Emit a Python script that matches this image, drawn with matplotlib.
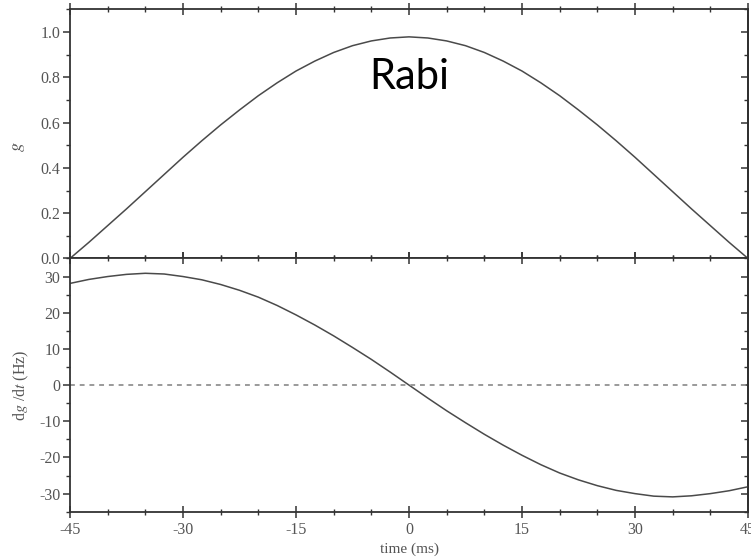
import numpy as np
import matplotlib
matplotlib.use("Agg")
import matplotlib.pyplot as plt
from matplotlib.ticker import MultipleLocator

# time axis (ms), 2.5 ms steps
time_ms = np.arange(-45, 45.01, 2.5)

# Rabi coupling g(t), rising half then mirrored
g_half = [0.0, 0.071, 0.145, 0.219, 0.295, 0.371, 0.447, 0.520, 0.590, 0.656,
          0.719, 0.776, 0.828, 0.872, 0.910, 0.940, 0.961, 0.974, 0.979]
g_vals = g_half + g_half[-2::-1]

# dg/dt in Hz, antisymmetric around t = 0
dg_half = [28.1, 29.2, 30.0, 30.6, 30.9, 30.7, 30.0, 29.1, 27.8, 26.2,
           24.3, 22.0, 19.4, 16.6, 13.6, 10.4, 7.1, 3.6, 0.0]
dg_vals = dg_half + [-v for v in dg_half[-2::-1]]

x_ticks = [-45, -30, -15, 0, 15, 30, 45]
g_ticks = [0.0, 0.2, 0.4, 0.6, 0.8, 1.0]
dg_ticks = [-30, -20, -10, 0, 10, 20, 30]

plt.rcParams['font.family'] = ['Liberation Serif', 'DejaVu Serif']
plt.rcParams['mathtext.fontset'] = 'stix'
plt.rcParams['axes.unicode_minus'] = False

line_col = '#4a4a4a'
text_col = '#555555'

fig = plt.figure(figsize=(7.51, 5.57), dpi=100)
left, right = 70 / 751, 748 / 751
ax1 = fig.add_axes([left, 0.536, right - left, 0.983 - 0.536])
ax2 = fig.add_axes([left, 0.0813, right - left, 0.536 - 0.0813])

ax1.plot(time_ms, g_vals, color=line_col, lw=1.1)
ax1.set_ylim(0, 1.1)
ax1.set_yticks(g_ticks)
ax1.set_yticklabels([f"{v:.1f}" for v in g_ticks])
ax1.yaxis.set_minor_locator(MultipleLocator(0.1))
ax1.set_ylabel(r'$g$', color=text_col, fontsize=13)
ax1.yaxis.set_label_coords(-0.064, 0.45)
ax1.text(0, 0.80, 'Rabi', fontsize=30, family=['Lato', 'DejaVu Sans'],
         ha='center', va='center', color='black')

ax2.plot(time_ms, dg_vals, color=line_col, lw=1.1)
ax2.axhline(0, color='#9a9a9a', lw=1.4, ls=(0, (2.5, 2.5)))
ax2.set_ylim(-35, 35)
ax2.set_yticks(dg_ticks)
ax2.yaxis.set_minor_locator(MultipleLocator(5))
ax2.set_ylabel(r'd$g$ /d$t$ (Hz)', color=text_col, fontsize=11.5)
ax2.yaxis.set_label_coords(-0.058, 0.5)
ax2.set_xlabel('time (ms)', color=text_col, fontsize=11, labelpad=3)

for ax in (ax1, ax2):
    ax.set_xlim(-45, 45)
    ax.set_xticks(x_ticks)
    ax.xaxis.set_minor_locator(MultipleLocator(5))
    for sp in ax.spines.values():
        sp.set_linewidth(1.3)
        sp.set_color('#333333')
    ax.tick_params(axis='x', which='major', direction='inout', length=8, width=1.1,
                   top=True, colors='#333333', labelcolor=text_col, labelsize=11.5)
    ax.tick_params(axis='x', which='minor', direction='inout', length=5, width=1.0,
                   top=True, colors='#333333')
    ax.tick_params(axis='y', which='major', direction='out', length=5, width=1.1,
                   colors='#333333', labelcolor=text_col, labelsize=11.5, pad=2)
    ax.tick_params(axis='y', which='minor', direction='out', length=3, width=1.0,
                   colors='#333333')
    # mirrored ticks on the right side, pointing inwards
    sec = ax.secondary_yaxis('right')
    sec.set_yticks(ax.get_yticks())
    sec.yaxis.set_minor_locator(ax.yaxis.get_minor_locator())
    sec.tick_params(which='major', direction='in', length=5, width=1.1,
                    colors='#333333', labelright=False)
    sec.tick_params(which='minor', direction='in', length=3, width=1.0,
                    colors='#333333')
    sec.spines['right'].set_linewidth(1.3)

ax1.tick_params(axis='x', labelbottom=False)

fig.savefig('out.png', dpi=100)
